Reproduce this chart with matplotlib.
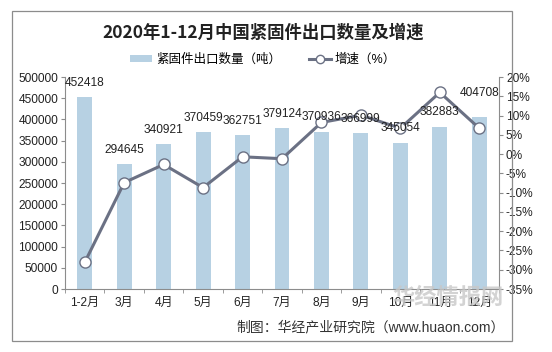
import matplotlib.pyplot as plt
from matplotlib.patches import Rectangle, Patch
from matplotlib.lines import Line2D
from matplotlib.ticker import FuncFormatter

plt.rcParams['font.family'] = ['Liberation Sans', 'Noto Sans CJK SC']

months = ['1-2月', '3月', '4月', '5月', '6月', '7月', '8月', '9月', '10月', '11月', '12月']
export_qty = [452418, 294645, 340921, 370459, 362751, 379124, 370936, 366999, 345054, 382883, 404708]
growth = [-28.1, -7.4, -2.7, -8.7, -0.7, -1.2, 8.2, 10.1, 6.7, 16.0, 6.7]

bar_color = '#b7d1e3'
line_color = '#6b7184'
text_color = '#222222'

fig = plt.figure(figsize=(5.52, 3.52), dpi=100)
fig.patches.append(Rectangle((12 / 552, 11 / 352), 500 / 552, 330 / 352, transform=fig.transFigure,
                             fill=False, edgecolor='#8c8c8c', linewidth=0.9))

ax = fig.add_axes([65 / 552, 63 / 352, 434 / 552, 212 / 352])
x = list(range(len(months)))
ax.bar(x, export_qty, width=0.38, color=bar_color, zorder=1)

ax.set_xlim(-0.5, len(months) - 0.5)
ax.set_ylim(0, 500000)
ax.set_yticks(range(0, 500001, 50000))
ax.set_xticks(x)
ax.set_xticklabels(months)
ax.set_xticks([i - 0.5 for i in range(len(months) + 1)], minor=True)
ax.tick_params(axis='x', which='major', length=0, pad=6, labelsize=8.6, colors=text_color)
ax.tick_params(axis='x', which='minor', length=3, color='#8c8c8c')
ax.tick_params(axis='y', length=3, color='#8c8c8c', labelsize=8.6, labelcolor=text_color, pad=2)
for s in ['top', 'right']:
    ax.spines[s].set_visible(False)
for s in ['left', 'bottom']:
    ax.spines[s].set_color('#8c8c8c')

ax2 = ax.twinx()
ax2.plot(x, growth, color=line_color, linewidth=2.2, marker='o', markersize=8,
         markerfacecolor='white', markeredgecolor=line_color, markeredgewidth=1.0, zorder=3)
ax2.set_ylim(-35, 20)
ax2.set_yticks(range(-35, 21, 5))
ax2.yaxis.set_major_formatter(FuncFormatter(lambda v, p: '%d%%' % v))
ax2.tick_params(axis='y', length=3, color='#8c8c8c', labelsize=8.6, labelcolor=text_color, pad=2)
for s in ['top', 'left', 'bottom']:
    ax2.spines[s].set_visible(False)
ax2.spines['right'].set_color('#8c8c8c')

# bar value labels drawn on top of the line
for xi, v in zip(x, export_qty):
    dy = 13 if xi == len(months) - 1 else 6
    ax2.annotate(str(v), (xi, v), xycoords=ax.transData, xytext=(0, dy), textcoords='offset points',
                 ha='center', va='bottom', fontsize=8.6, color=text_color, zorder=5)

fig.text(263 / 552, 1 - 33 / 352, '2020年1-12月中国紧固件出口数量及增速', ha='center', va='center',
         fontsize=12.5, fontweight='bold', color=text_color, family=['Noto Sans CJK SC'])

handles = [Patch(facecolor=bar_color, edgecolor='none'),
           Line2D([0], [0], color=line_color, linewidth=2.2, marker='o', markersize=6,
                  markerfacecolor='white', markeredgecolor=line_color)]
fig.legend(handles, ['紧固件出口数量（吨）', '增速（%）'], loc='center', ncol=2,
           bbox_to_anchor=(263 / 552, 1 - 60 / 352), frameon=False, fontsize=9,
           handlelength=1.8, handleheight=0.5, columnspacing=2.2, handletextpad=0.3)

fig.text(392 / 552, 1 - 298 / 352, '华经情报网', ha='left', va='center', fontsize=16,
         fontweight='bold', color='#c8c8c8', alpha=0.8)
fig.text(505 / 552, 1 - 327 / 352, '制图：华经产业研究院（www.huaon.com）', ha='right', va='center',
         fontsize=10, color='#333333')

fig.savefig('out.png', dpi=100)
